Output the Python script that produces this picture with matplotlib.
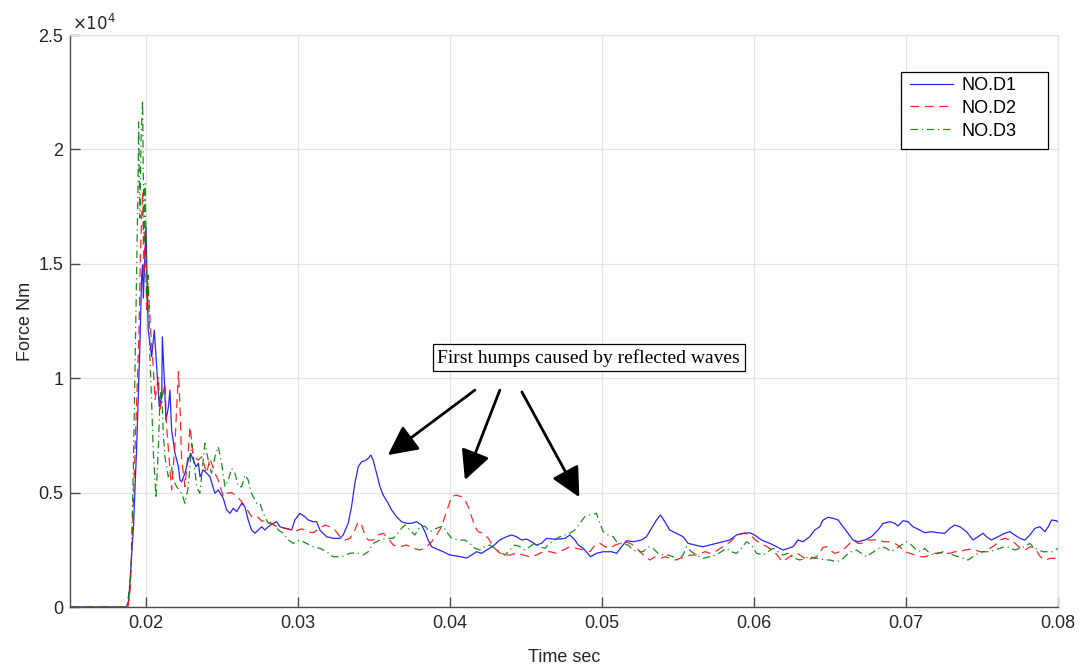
import matplotlib
matplotlib.use("Agg")
import matplotlib.pyplot as plt
from matplotlib.ticker import FuncFormatter, MultipleLocator
from matplotlib.patches import Rectangle

# ---------------- data (time [s], force [Nm]) ----------------
t_d1 = [0.0150, 0.0187, 0.01885, 0.01916, 0.01937, 0.01958, 0.01969, 0.01975, 0.01981, 0.01998,
        0.02013, 0.02036, 0.02053, 0.02069, 0.02086, 0.02102, 0.02106, 0.02119, 0.02130, 0.02146,
        0.02156, 0.02167, 0.02189, 0.02212, 0.02222, 0.02233, 0.02255, 0.02277, 0.02292, 0.02310,
        0.02328, 0.02343, 0.02354, 0.02376, 0.02398, 0.02419, 0.02452, 0.02474, 0.02507, 0.02529,
        0.02551, 0.02573, 0.02595, 0.02628, 0.02649, 0.02671, 0.02693, 0.02715, 0.02737, 0.02759,
        0.02781, 0.02803, 0.02836, 0.02858, 0.02880, 0.02913, 0.02957, 0.02978, 0.03011, 0.03044,
        0.03066, 0.03099, 0.03121, 0.03143, 0.03187, 0.03230, 0.03274, 0.03296, 0.03329, 0.03351,
        0.03373, 0.03395, 0.03417, 0.03439, 0.03461, 0.03478, 0.03493, 0.03516, 0.03538, 0.03559,
        0.03592, 0.03615, 0.03647, 0.03680, 0.03713, 0.03746, 0.03779, 0.03812, 0.03834, 0.03855,
        0.03878, 0.03911, 0.03954, 0.03998, 0.04042, 0.04086, 0.04108, 0.04141, 0.04174, 0.04207,
        0.04240, 0.04283, 0.04327, 0.04371, 0.04404, 0.04437, 0.04470, 0.04503, 0.04536, 0.04568,
        0.04601, 0.04634, 0.04678, 0.04722, 0.04755, 0.04788, 0.04821, 0.04843, 0.04876, 0.04924,
        0.04963, 0.05007, 0.05062, 0.05095, 0.05128, 0.05161, 0.05205, 0.05259, 0.05292, 0.05325,
        0.05358, 0.05384, 0.05413, 0.05445, 0.05489, 0.05533, 0.05566, 0.05610, 0.05664, 0.05708,
        0.05752, 0.05796, 0.05840, 0.05884, 0.05928, 0.05972, 0.06004, 0.06049, 0.06103, 0.06147,
        0.06191, 0.06224, 0.06257, 0.06289, 0.06322, 0.06366, 0.06399, 0.06432, 0.06454, 0.06487,
        0.06520, 0.06553, 0.06586, 0.06618, 0.06651, 0.06684, 0.06728, 0.06772, 0.06816, 0.06849,
        0.06893, 0.06926, 0.06947, 0.06980, 0.07013, 0.07046, 0.07090, 0.07123, 0.07167, 0.07211,
        0.07255, 0.07288, 0.07321, 0.07354, 0.07398, 0.07441, 0.07474, 0.07507, 0.07530, 0.07562,
        0.07606, 0.07650, 0.07683, 0.07716, 0.07749, 0.07782, 0.07815, 0.07848, 0.07881, 0.07914,
        0.07936, 0.07958, 0.07991, 0.08000]
f_d1 = [0, 0, 300, 3510, 7000, 11380, 14290, 14950, 13500, 16600,
        12100, 10940, 12100, 10500, 8750, 9190, 11810, 9920, 8170, 8750,
        9480, 7735, 6730, 6130, 5550, 5475, 5855, 6425, 6715, 6425,
        6130, 6280, 5695, 5990, 5845, 5695, 4970, 5113, 4750, 4239,
        4095, 4313, 4165, 4532, 4383, 3802, 3365, 3221, 3365, 3509,
        3365, 3509, 3658, 3728, 3509, 3439, 3365, 3802, 4095, 3946,
        3802, 3728, 3728, 3365, 3072, 3002, 3002, 3146, 3658, 4383,
        5406, 6131, 6350, 6393, 6498, 6642, 6424, 5843, 5257, 4894,
        4532, 4239, 3946, 3728, 3658, 3658, 3728, 3583, 3291, 2928,
        2635, 2535, 2417, 2272, 2229, 2172, 2141, 2272, 2417, 2347,
        2491, 2666, 2928, 3072, 3146, 3072, 2928, 2972, 2854, 2709,
        2784, 3002, 2972, 2972, 3002, 3146, 2928, 2709, 2565, 2198,
        2347, 2417, 2417, 2347, 2635, 2897, 2854, 2928, 3072, 3439,
        3802, 4020, 3728, 3365, 3221, 3072, 2784, 2709, 2635, 2709,
        2784, 2854, 2928, 3146, 3221, 3247, 3146, 2928, 2784, 2635,
        2491, 2565, 2635, 2928, 2854, 3072, 3365, 3509, 3802, 3920,
        3876, 3802, 3509, 3221, 2928, 2854, 2928, 3072, 3365, 3658,
        3728, 3658, 3540, 3771, 3728, 3509, 3365, 3247, 3291, 3247,
        3221, 3439, 3583, 3509, 3291, 2928, 3072, 3221, 3072, 2928,
        3072, 3221, 3291, 3146, 3002, 2928, 3146, 3439, 3509, 3291,
        3509, 3802, 3771, 3715]

t_d2 = [0.0150, 0.01880, 0.01895, 0.01908, 0.01930, 0.01952, 0.01962, 0.01970, 0.01976, 0.01985,
        0.01993, 0.02003, 0.02013, 0.02030, 0.02046, 0.02058, 0.02079, 0.02090, 0.02123, 0.02134,
        0.02167, 0.02189, 0.02212, 0.02222, 0.02233, 0.02255, 0.02277, 0.02288, 0.02310, 0.02343,
        0.02365, 0.02398, 0.02419, 0.02452, 0.02474, 0.02507, 0.02529, 0.02562, 0.02595, 0.02628,
        0.02660, 0.02693, 0.02726, 0.02759, 0.02803, 0.02847, 0.02891, 0.02935, 0.02978, 0.03022,
        0.03066, 0.03099, 0.03143, 0.03176, 0.03209, 0.03242, 0.03275, 0.03308, 0.03341, 0.03373,
        0.03395, 0.03417, 0.03439, 0.03461, 0.03494, 0.03527, 0.03559, 0.03592, 0.03625, 0.03669,
        0.03713, 0.03757, 0.03801, 0.03845, 0.03878, 0.03911, 0.03944, 0.03965, 0.03987, 0.04009,
        0.04038, 0.04075, 0.04097, 0.04119, 0.04141, 0.04163, 0.04185, 0.04218, 0.04251, 0.04283,
        0.04316, 0.04349, 0.04393, 0.04437, 0.04481, 0.04525, 0.04568, 0.04612, 0.04656, 0.04700,
        0.04744, 0.04788, 0.04832, 0.04876, 0.04920, 0.04953, 0.04986, 0.05019, 0.05052, 0.05085,
        0.05118, 0.05151, 0.05184, 0.05217, 0.05250, 0.05283, 0.05316, 0.05349, 0.05382, 0.05415,
        0.05448, 0.05481, 0.05514, 0.05547, 0.05580, 0.05613, 0.05646, 0.05679, 0.05712, 0.05745,
        0.05778, 0.05811, 0.05844, 0.05877, 0.05910, 0.05943, 0.05976, 0.06009, 0.06042, 0.06086,
        0.06119, 0.06152, 0.06185, 0.06218, 0.06251, 0.06284, 0.06317, 0.06350, 0.06378, 0.06411,
        0.06432, 0.06454, 0.06476, 0.06498, 0.06531, 0.06564, 0.06597, 0.06630, 0.06652, 0.06684,
        0.06717, 0.06750, 0.06783, 0.06816, 0.06849, 0.06893, 0.06926, 0.06959, 0.06992, 0.07025,
        0.07058, 0.07091, 0.07124, 0.07157, 0.07190, 0.07223, 0.07256, 0.07289, 0.07322, 0.07355,
        0.07388, 0.07421, 0.07454, 0.07487, 0.07520, 0.07553, 0.07586, 0.07619, 0.07652, 0.07685,
        0.07718, 0.07751, 0.07784, 0.07817, 0.07850, 0.07883, 0.07916, 0.07949, 0.07982, 0.08000]
f_d2 = [0, 0, 800, 3220, 7590, 11970, 15500, 17000, 18150, 14500,
        16500, 13000, 14000, 12000, 10500, 9046, 10065, 8610, 9776, 7880,
        5113, 7154, 10283, 8753, 6424, 5257, 6861, 7879, 6568, 6424,
        6568, 5843, 6500, 5843, 5550, 4820, 4970, 5000, 4850, 4600,
        4300, 3950, 3990, 3760, 3760, 3550, 3470, 3420, 3300, 3420,
        3280, 3250, 3440, 3580, 3509, 3365, 3072, 2928, 3002, 3365,
        3728, 3583, 3146, 2928, 2928, 3146, 3221, 3002, 2709, 2635,
        2709, 2565, 2491, 2635, 2854, 3146, 3509, 3946, 4383, 4820,
        4894, 4820, 4676, 4383, 3946, 3509, 3291, 3221, 3002, 2635,
        2417, 2272, 2272, 2347, 2272, 2198, 2272, 2417, 2417, 2347,
        2491, 2635, 2565, 2491, 2417, 2709, 2784, 2635, 2565, 2709,
        2784, 2854, 2784, 2635, 2417, 2198, 2054, 2198, 2128, 2198,
        2128, 2054, 2128, 2198, 2272, 2272, 2347, 2417, 2347, 2417,
        2565, 2709, 2854, 3072, 3190, 3221, 3146, 2928, 2784, 2635,
        2491, 2272, 1980, 2128, 2272, 2347, 2200, 2054, 2128, 2198,
        2347, 2609, 2635, 2491, 2347, 2417, 2565, 2784, 2928, 2784,
        2784, 2928, 2928, 2958, 2854, 2854, 2784, 2635, 2417, 2347,
        2272, 2198, 2198, 2272, 2347, 2373, 2347, 2347, 2417, 2417,
        2491, 2521, 2491, 2417, 2417, 2565, 2709, 2928, 3002, 2928,
        2784, 2565, 2491, 2635, 2565, 2198, 2054, 2128, 2128, 1980]

t_d3 = [0.0150, 0.01875, 0.01900, 0.01915, 0.01930, 0.01945, 0.01950, 0.01958, 0.01966, 0.01976,
        0.01985, 0.01993, 0.02003, 0.02013, 0.02024, 0.02035, 0.02046, 0.02064, 0.02079, 0.02090,
        0.02101, 0.02112, 0.02123, 0.02145, 0.02167, 0.02178, 0.02200, 0.02233, 0.02255, 0.02277,
        0.02299, 0.02310, 0.02332, 0.02353, 0.02375, 0.02386, 0.02408, 0.02430, 0.02452, 0.02474,
        0.02496, 0.02518, 0.02540, 0.02562, 0.02584, 0.02606, 0.02628, 0.02650, 0.02671, 0.02693,
        0.02726, 0.02748, 0.02770, 0.02803, 0.02836, 0.02869, 0.02902, 0.02935, 0.02967, 0.03011,
        0.03055, 0.03099, 0.03143, 0.03187, 0.03230, 0.03253, 0.03296, 0.03340, 0.03384, 0.03428,
        0.03461, 0.03494, 0.03538, 0.03582, 0.03625, 0.03647, 0.03680, 0.03702, 0.03735, 0.03768,
        0.03801, 0.03833, 0.03866, 0.03911, 0.03954, 0.03976, 0.04009, 0.04053, 0.04097, 0.04130,
        0.04163, 0.04196, 0.04228, 0.04261, 0.04294, 0.04327, 0.04360, 0.04393, 0.04426, 0.04459,
        0.04491, 0.04524, 0.04557, 0.04590, 0.04623, 0.04656, 0.04689, 0.04722, 0.04754, 0.04787,
        0.04820, 0.04853, 0.04886, 0.04919, 0.04963, 0.04985, 0.05007, 0.05040, 0.05073, 0.05095,
        0.05128, 0.05171, 0.05204, 0.05237, 0.05270, 0.05303, 0.05336, 0.05368, 0.05401, 0.05434,
        0.05467, 0.05500, 0.05533, 0.05555, 0.05588, 0.05621, 0.05664, 0.05708, 0.05752, 0.05785,
        0.05818, 0.05851, 0.05884, 0.05917, 0.05950, 0.05983, 0.06016, 0.06059, 0.06092, 0.06125,
        0.06158, 0.06191, 0.06224, 0.06268, 0.06301, 0.06334, 0.06366, 0.06399, 0.06432, 0.06465,
        0.06498, 0.06542, 0.06575, 0.06608, 0.06641, 0.06674, 0.06707, 0.06740, 0.06772, 0.06805,
        0.06838, 0.06871, 0.06904, 0.06937, 0.06970, 0.07003, 0.07036, 0.07069, 0.07101, 0.07123,
        0.07145, 0.07178, 0.07211, 0.07244, 0.07276, 0.07309, 0.07342, 0.07375, 0.07408, 0.07441,
        0.07474, 0.07507, 0.07551, 0.07584, 0.07617, 0.07649, 0.07682, 0.07715, 0.07748, 0.07781,
        0.07814, 0.07836, 0.07869, 0.07902, 0.07935, 0.07968, 0.08000]
f_d3 = [0, 0, 1500, 6000, 12000, 18000, 21200, 17000, 20500, 22150,
        16000, 18500, 13500, 14500, 10940, 9046, 6861, 4750, 6861, 9046,
        9627, 7590, 6568, 5694, 6131, 5550, 5257, 4970, 4532, 5257,
        7154, 6568, 5257, 4970, 6424, 7154, 6424, 5843, 6568, 7005,
        6280, 5257, 5550, 6061, 5843, 5257, 5257, 5768, 5550, 4970,
        4532, 4532, 4095, 3658, 3658, 3365, 3221, 2928, 2784, 2928,
        2784, 2635, 2565, 2417, 2198, 2198, 2229, 2347, 2373, 2272,
        2417, 2784, 2928, 3002, 3002, 3146, 3439, 3583, 3365, 3146,
        3509, 3540, 3291, 3439, 3540, 3291, 3002, 2928, 2928, 2784,
        2565, 2491, 2635, 2709, 2565, 2417, 2272, 2491, 2709, 2635,
        2491, 2635, 2784, 2635, 2565, 2784, 2928, 3072, 3146, 3221,
        3365, 3658, 3946, 4020, 4095, 3658, 3291, 3146, 3072, 2854,
        2784, 2709, 2491, 2417, 2417, 2635, 2565, 2347, 2272, 2272,
        2198, 2054, 2272, 2635, 2417, 2272, 2128, 2198, 2272, 2417,
        2565, 2417, 2347, 2565, 2854, 2709, 2347, 2272, 2417, 2565,
        2417, 2272, 2347, 2128, 2054, 2128, 2198, 2128, 2128, 2054,
        2054, 1980, 2054, 2272, 2417, 2491, 2347, 2198, 2347, 2491,
        2635, 2565, 2417, 2565, 2709, 2854, 2709, 2491, 2417, 2565,
        2417, 2272, 2347, 2417, 2347, 2272, 2198, 2128, 2054, 2198,
        2347, 2417, 2417, 2491, 2565, 2635, 2609, 2491, 2565, 2635,
        2784, 2635, 2491, 2417, 2417, 2417, 2565]

series_labels = ["NO.D1", "NO.D2", "NO.D3"]
x_ticks = [0.02, 0.03, 0.04, 0.05, 0.06, 0.07, 0.08]
annotation_text = "First humps caused by reflected waves"
arrow_starts = [(0.04163, 9480), (0.04327, 9480), (0.04472, 9400)]
arrow_ends = [(0.03590, 6640), (0.04097, 5550), (0.04850, 4800)]

# ---------------- figure ----------------
plt.rcParams['font.family'] = ['Liberation Sans', 'DejaVu Sans']
fig = plt.figure(figsize=(10.81, 6.68), dpi=100)
ax = fig.add_axes([0.0650, 0.0913, 0.9137, 0.8563])

grid_c = '#e3e3e3'
axis_c = '#4d4d4d'
text_c = '#262626'

ax.plot(t_d1, f_d1, color='#0000ff', lw=0.9, label=series_labels[0], alpha=0.85)
ax.plot(t_d2, f_d2, color='#ff0000', lw=0.9, ls=(0, (7, 4.5)), label=series_labels[1], alpha=0.85)
ax.plot(t_d3, f_d3, color='#008000', lw=0.9, ls=(0, (6, 3, 1, 3)), label=series_labels[2], alpha=0.9)

ax.set_xlim(0.015, 0.08)
ax.set_ylim(0, 25000)
ax.set_xticks(x_ticks)
ax.xaxis.set_major_formatter(FuncFormatter(lambda v, p: f"{v:g}"))
ax.yaxis.set_major_locator(MultipleLocator(5000))
ax.yaxis.set_major_formatter(FuncFormatter(lambda v, p: f"{v/1e4:g}"))

ax.grid(True, color=grid_c, lw=0.9)
ax.set_axisbelow(True)
for s in ['top', 'right']:
    ax.spines[s].set_color(grid_c)
    ax.spines[s].set_linewidth(0.9)
for s in ['left', 'bottom']:
    ax.spines[s].set_color(axis_c)
    ax.spines[s].set_linewidth(1.0)
ax.tick_params(axis='both', direction='in', length=7, width=1.0, color=axis_c,
               labelsize=13, labelcolor=text_c, top=False, right=False)
ax.tick_params(axis='x', pad=6)
ax.tick_params(axis='y', pad=5)

ax.set_xlabel("Time sec", fontsize=13, color=text_c, labelpad=12)
ax.set_ylabel("Force Nm", fontsize=13, color=text_c, labelpad=3)

ax.text(0.002, 1.003, r"$\times10^{4}$", transform=ax.transAxes, ha='left', va='bottom',
        fontsize=12, color=text_c, math_fontfamily='dejavusans')

# legend: frame drawn as a rectangle (MATLAB-style extra right padding)
ax.add_patch(Rectangle((0.8410, 0.8007), 0.1489, 0.1346, transform=ax.transAxes,
                       fc='white', ec='black', lw=0.9, zorder=7))
leg = ax.legend(loc='upper left', bbox_to_anchor=(0.8502, 0.9266), fontsize=13,
                frameon=False, handlelength=2.4, handletextpad=0.45, labelspacing=0.32,
                borderpad=0, borderaxespad=0)
leg.set_zorder(8)

ax.text(0.04912, 10900, annotation_text, ha='center', va='center',
        family=['Liberation Serif', 'DejaVu Serif'], fontsize=14, color='black',
        bbox=dict(boxstyle='square,pad=0.25', fc='white', ec='black', lw=0.9), zorder=5)

for s, e in zip(arrow_starts, arrow_ends):
    ax.annotate('', xy=e, xytext=s,
                arrowprops=dict(arrowstyle='-|>,head_length=0.9,head_width=0.45', lw=2.0,
                                color='black', shrinkA=0, shrinkB=0, mutation_scale=20),
                zorder=6)

fig.savefig('out.png', dpi=100)
